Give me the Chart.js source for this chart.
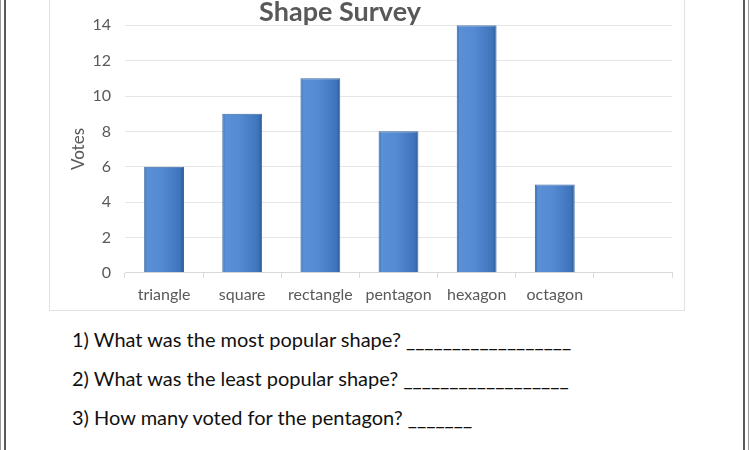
<!DOCTYPE html>
<html>
<head>
<meta charset="utf-8">
<script src="https://cdn.jsdelivr.net/npm/chart.js@4/dist/chart.umd.min.js"></script>
<style>
body{margin:0;background:#fff;font-family:Lato,"Open Sans",sans-serif}
#page{position:relative;width:750px;height:450px;overflow:hidden;background:#fff}
.vline{position:absolute;top:0;height:450px}
#box{position:absolute;left:49px;top:-5px;width:634px;height:314px;border:1px solid #e2e2e2}
#wrap{position:absolute;left:0;top:0;width:680px;height:315px}
.q{position:absolute;left:72px;font-size:20px;color:#111;white-space:pre}
</style>
</head>
<body>
<div id="page">
  <div class="vline" style="left:0;width:1px;background:#9a9a9a"></div>
  <div class="vline" style="left:4px;width:2px;background:#5a5a5a"></div>
  <div class="vline" style="left:743px;width:2px;background:#5a5a5a"></div>
  <div class="vline" style="left:748px;width:1px;background:#9a9a9a"></div>
  <div id="box"></div>
  <div id="wrap"><canvas id="chart" width="680" height="315"></canvas></div>
  <div id="questions"></div>
</div>
<script>
const categories=['triangle','square','rectangle','pentagon','hexagon','octagon',''];
const votes=[6,9,11,8,14,5,null];
const chartTitle='Shape Survey';
const axisTitle='Votes';
const questions=[
  '1) What was the most popular shape? __________________',
  '2) What was the least popular shape? __________________',
  '3) How many voted for the pentagon? _______'
];
const questionTops=[327,366,405];

const qDiv=document.getElementById('questions');
questions.forEach((t,i)=>{const d=document.createElement('div');d.className='q';d.style.top=questionTops[i]+'px';d.textContent=t;qDiv.appendChild(d)});

const BAR_PCT=0.51;
function barFill(c){
  const ch=c.chart, a=ch.chartArea;
  if(!a||c.type!=='data') return '#4f84c9';
  const slot=(a.right-a.left)/categories.length;
  const w=slot*BAR_PCT;
  const cx=ch.scales.x.getPixelForValue(c.dataIndex);
  const g=ch.ctx.createLinearGradient(cx-w/2,0,cx+w/2,0);
  g.addColorStop(0,'#2f5f9e');
  g.addColorStop(0.07,'#5a90d6');
  g.addColorStop(0.45,'#548ad2');
  g.addColorStop(0.9,'#3f74bb');
  g.addColorStop(1,'#2b5894');
  return g;
}

const grey='#595959';
new Chart(document.getElementById('chart'),{
  type:'bar',
  data:{labels:categories,datasets:[{data:votes,backgroundColor:barFill,borderColor:'#3a67a3',borderWidth:1,borderSkipped:'bottom',barPercentage:BAR_PCT,categoryPercentage:1}]},
  options:{
    responsive:false,animation:false,
    layout:{padding:{left:8,right:8,top:0,bottom:4}},
    plugins:{
      legend:{display:false},tooltip:{enabled:false},
      title:{display:true,text:chartTitle,color:grey,font:{family:'Lato',size:27,weight:'bold',lineHeight:0.9},padding:{top:0,bottom:1}}
    },
    scales:{
      x:{
        grid:{offset:true,drawOnChartArea:false,drawTicks:true,tickLength:5,color:'#d9d9d9'},
        border:{color:'#d9d9d9'},
        ticks:{color:grey,font:{family:'Lato',size:16},padding:7,maxRotation:0,autoSkip:false}
      },
      y:{
        min:0,max:14,
        afterFit(s){s.width=117},
        grid:{color:'#e6e6e6',drawTicks:false},
        border:{display:false},
        ticks:{stepSize:2,color:grey,font:{family:'Lato',size:16},padding:14},
        title:{display:true,text:axisTitle,color:grey,font:{family:'Lato',size:17},padding:{top:60,bottom:0}}
      }
    }
  }
});
</script>
</body>
</html>
